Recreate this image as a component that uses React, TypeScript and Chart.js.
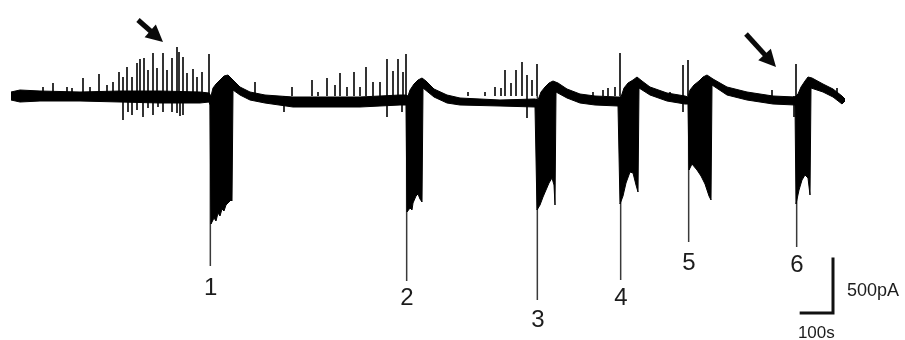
import { useEffect, useRef } from "react";
import { Chart, registerables } from "chart.js";

Chart.register(...registerables);

// Units: time in s, current in pA (scale bars: 100 s, 500 pA)
const upperEnvelope: [number, number][] = [
  [-3, 36], [24, 54], [84, 45], [204, 36], [324, 45], [444, 45], [564, 36], [591, 27],
  [597, 0], [603, 72], [612, 108], [624, 144], [636, 180], [648, 189], [660, 153], [684, 81],
  [714, 36], [759, 9], [843, -9], [954, -9], [1044, -9], [1164, 9], [1182, 9],
  [1188, 0], [1194, 54], [1206, 108], [1218, 144], [1230, 162], [1242, 135], [1266, 63],
  [1305, 9], [1344, -18], [1464, -36], [1569, -27],
  [1578, -36], [1587, 36], [1599, 81], [1611, 117], [1623, 135], [1638, 117], [1665, 63],
  [1704, 18], [1749, 0], [1818, -9],
  [1827, -9], [1836, 72], [1848, 117], [1863, 144], [1875, 171], [1890, 135], [1914, 81],
  [1965, 27], [2019, 0], [2028, -9],
  [2034, 54], [2046, 99], [2061, 135], [2073, 171], [2085, 189], [2103, 153], [2145, 81],
  [2205, 36], [2283, 0], [2349, -9],
  [2358, 18], [2367, 81], [2379, 135], [2388, 171], [2400, 162], [2433, 108], [2463, 63],
  [2490, 0], [2499, -27],
];

const lowerEnvelope: [number, number][] = [
  [-3, -36], [24, -54], [84, -45], [204, -45], [324, -54], [444, -63], [564, -63], [591, -54],
  [594, -81], [597, -1152], [606, -1098], [612, -1125], [618, -1053], [624, -1080], [630, -1017],
  [636, -1035], [642, -981], [651, -954], [657, -936], [660, -945], [663, 54], [684, 9],
  [714, -36], [759, -63], [843, -99], [954, -99], [1044, -99], [1164, -81], [1182, -81],
  [1185, -1044], [1194, -1008], [1200, -1026], [1203, -963], [1212, -900], [1218, -882],
  [1224, -927], [1230, -954], [1233, 72], [1266, -9], [1305, -63], [1344, -81], [1464, -90],
  [1569, -99],
  [1575, -1026], [1584, -981], [1593, -909], [1602, -846], [1611, -783], [1620, -738],
  [1626, -801], [1629, -981], [1632, 36], [1665, -18], [1704, -63], [1749, -81], [1818, -90],
  [1824, -972], [1833, -900], [1842, -783], [1854, -684], [1863, -693], [1872, -801],
  [1878, -864], [1881, 72], [1914, 9], [1965, -45], [2019, -72], [2028, -72],
  [2031, -666], [2040, -612], [2055, -666], [2067, -720], [2079, -792], [2091, -900],
  [2097, -936], [2100, 99], [2145, 9], [2205, -36], [2283, -72], [2349, -81],
  [2352, -972], [2361, -846], [2370, -756], [2379, -711], [2388, -738], [2394, -891],
  [2397, 72], [2433, 36], [2463, -9], [2490, -72], [2499, -45],
];

// spontaneous events: [time, peak current]
const upSpikes: [number, number][] = [
  [93, 81], [123, 117], [165, 81], [180, 72], [213, 162], [234, 81], [261, 198], [285, 99],
  [303, 126], [321, 216], [333, 171], [345, 261], [360, 171], [375, 297], [384, 333],
  [396, 342], [408, 234], [423, 387], [435, 252], [453, 387], [465, 234], [480, 342],
  [495, 441], [501, 396], [513, 351], [525, 207], [543, 243], [555, 171], [570, 216],
  [591, 378],
  [729, 126], [840, 81], [900, 144], [918, 36], [945, 162], [969, 99], [984, 207], [1005, 81],
  [1026, 216], [1044, 81], [1062, 261], [1083, 126], [1104, 126], [1125, 333], [1143, 225],
  [1158, 333], [1173, 216], [1182, 378],
  [1368, 36], [1419, 36], [1449, 81], [1467, 72], [1479, 234], [1497, 117], [1512, 234],
  [1530, 306], [1545, 189], [1560, 144], [1575, 288],
  [1743, 36], [1773, 54], [1788, 72], [1809, 81], [1824, 387],
  [1974, 36], [2013, 279], [2028, 324],
  [2280, 54], [2352, 288], [2475, 72],
];

const downSpikes: [number, number][] = [
  [333, -216], [348, -144], [360, -171], [375, -126], [393, -189], [408, -108], [423, -171],
  [438, -99], [453, -144], [480, -144], [495, -153], [504, -180], [513, -171],
  [816, -144], [1125, -189], [1170, -144], [1545, -198], [2013, -144], [2346, -189],
];

// onset of each burst: [time, peak inward current]
const burstOnsets: [number, number][] = [
  [595, -1530], [1184, -1665], [1576, -1836], [1826, -1656], [2030, -1314], [2354, -1359],
];

const burstLabels = ["1", "2", "3", "4", "5", "6"];
const burstLabelTimes = [596, 1185, 1578, 1827, 2031, 2355];
const burstLabelCurrents = [-1710, -1800, -1998, -1800, -1485, -1503];

// arrows: [tailTime, tailCurrent, tipTime, tipCurrent]
const arrows: [number, number, number, number][] = [
  [378, 684, 453, 486],
  [2202, 558, 2292, 261],
];

const scaleBar: [number, number][] = [[2363, -1953], [2463, -1953], [2463, -1453]];
const scaleTexts = ["500pA", "100s"];
const scaleTextTimes = [2505, 2413];
const scaleTextCurrents = [-1746, -2124];

const toPts = (arr: [number, number][]) => arr.map(([x, y]) => ({ x, y }));
const segs = (arr: [number, number][]) =>
  arr.flatMap(([x, y]) => [{ x, y: 0 }, { x, y }, { x, y: null as any }]);

const FONT = "Arial, 'Liberation Sans', Helvetica, sans-serif";

const annotationPlugin = {
  id: "annotations",
  afterDatasetsDraw(chart: any) {
    const { ctx } = chart;
    const xs = chart.scales.x;
    const ys = chart.scales.y;
    ctx.save();
    ctx.fillStyle = "#1c1c1c";
    ctx.textAlign = "center";
    ctx.textBaseline = "alphabetic";
    ctx.font = `24px ${FONT}`;
    burstLabels.forEach((lab, i) => {
      const px = xs.getPixelForValue(burstLabelTimes[i]);
      const py = ys.getPixelForValue(burstLabelCurrents[i]);
      ctx.fillText(lab, px, py + 24 * 0.36);
    });
    ctx.font = `18px ${FONT}`;
    ctx.textAlign = "left";
    ctx.fillText(
      scaleTexts[0],
      xs.getPixelForValue(scaleTextTimes[0]),
      ys.getPixelForValue(scaleTextCurrents[0]) + 18 * 0.36
    );
    ctx.font = `17px ${FONT}`;
    ctx.textAlign = "center";
    ctx.fillText(
      scaleTexts[1],
      xs.getPixelForValue(scaleTextTimes[1]),
      ys.getPixelForValue(scaleTextCurrents[1]) + 17 * 0.36
    );
    ctx.fillStyle = "#0a0a0a";
    ctx.strokeStyle = "#0a0a0a";
    arrows.forEach(([t1, i1, t2, i2]) => {
      const x1 = xs.getPixelForValue(t1);
      const y1 = ys.getPixelForValue(i1);
      const x2 = xs.getPixelForValue(t2);
      const y2 = ys.getPixelForValue(i2);
      const ang = Math.atan2(y2 - y1, x2 - x1);
      const headLen = 17;
      const headW = 8.5;
      const bx = x2 - headLen * Math.cos(ang);
      const by = y2 - headLen * Math.sin(ang);
      ctx.lineWidth = 5;
      ctx.lineCap = "butt";
      ctx.beginPath();
      ctx.moveTo(x1, y1);
      ctx.lineTo(bx + 3 * Math.cos(ang), by + 3 * Math.sin(ang));
      ctx.stroke();
      ctx.beginPath();
      ctx.moveTo(x2, y2);
      ctx.lineTo(bx + headW * Math.sin(ang), by - headW * Math.cos(ang));
      ctx.lineTo(bx - headW * Math.sin(ang), by + headW * Math.cos(ang));
      ctx.closePath();
      ctx.fill();
    });
    ctx.restore();
  },
};

export default function App() {
  const ref = useRef<HTMLCanvasElement | null>(null);
  useEffect(() => {
    if (!ref.current) return;
    const chart = new Chart(ref.current, {
      type: "line",
      data: {
        datasets: [
          {
            data: toPts(upperEnvelope),
            borderColor: "#000",
            borderWidth: 1,
            fill: false,
          },
          {
            data: toPts(lowerEnvelope),
            borderColor: "#000",
            borderWidth: 1,
            backgroundColor: "#000",
            fill: "-1",
          },
          {
            data: segs(upSpikes),
            borderColor: "#111",
            borderWidth: 1.7,
            spanGaps: false,
            fill: false,
          },
          {
            data: segs(downSpikes),
            borderColor: "#111",
            borderWidth: 1.7,
            spanGaps: false,
            fill: false,
          },
          {
            data: segs(burstOnsets),
            borderColor: "#3a3a3a",
            borderWidth: 1.5,
            spanGaps: false,
            fill: false,
          },
          {
            data: toPts(scaleBar),
            borderColor: "#111",
            borderWidth: 3,
            borderJoinStyle: "miter",
            fill: false,
          },
        ] as any,
      },
      options: {
        animation: false,
        responsive: false,
        maintainAspectRatio: false,
        events: [],
        layout: { padding: 0 },
        elements: { point: { radius: 0 }, line: { tension: 0 } },
        plugins: { legend: { display: false }, tooltip: { enabled: false } },
        scales: {
          x: { type: "linear", min: -36, max: 2679, display: false },
          y: { type: "linear", min: -2196, max: 864, display: false },
        },
      },
      plugins: [annotationPlugin],
    });
    return () => chart.destroy();
  }, []);
  return (
    <div style={{ position: "fixed", left: 0, top: 0, width: 905, height: 340, background: "#fff" }}>
      <canvas ref={ref} width={905} height={340} style={{ display: "block" }} />
    </div>
  );
}
